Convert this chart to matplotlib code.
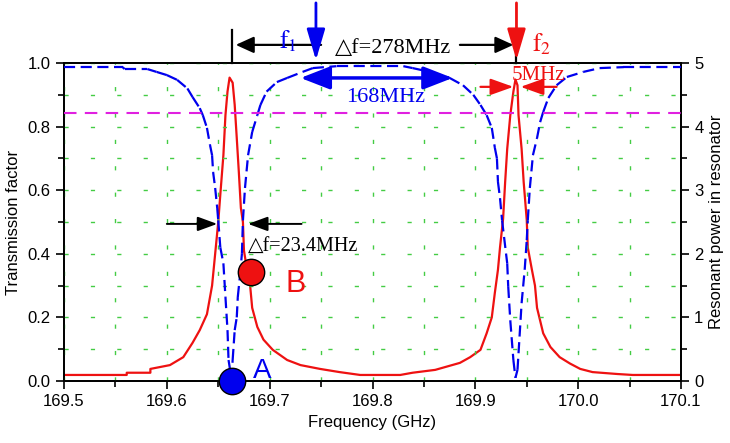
import numpy as np
import matplotlib
matplotlib.use("Agg")
import matplotlib.pyplot as plt
from matplotlib.collections import LineCollection

plt.rcParams['font.family'] = ['Liberation Sans', 'DejaVu Sans']
plt.rcParams['mathtext.fontset'] = 'stix'

# transmission factor (left axis)
blue_freq = [169.500, 169.557, 169.559, 169.581, 169.590, 169.600, 169.610, 169.620,
             169.625, 169.632, 169.635, 169.639, 169.642, 169.644, 169.645, 169.647,
             169.649, 169.650, 169.652, 169.655, 169.657, 169.659, 169.660, 169.663,
             169.664, 169.666, 169.668, 169.669, 169.671, 169.673, 169.674, 169.676,
             169.679, 169.683, 169.688, 169.691, 169.697, 169.707, 169.717, 169.732,
             169.742, 169.765, 169.830, 169.839, 169.856, 169.875, 169.888, 169.898,
             169.905, 169.911, 169.916, 169.919, 169.921, 169.922, 169.924, 169.926,
             169.931, 169.932, 169.934, 169.937, 169.939, 169.941, 169.943, 169.945,
             169.948, 169.950, 169.951, 169.953, 169.956, 169.960, 169.963, 169.966,
             169.971, 169.979, 169.989, 170.005, 170.021, 170.044, 170.100]
blue_trans = [0.987, 0.987, 0.981, 0.981, 0.972, 0.962, 0.947, 0.920,
              0.893, 0.858, 0.836, 0.796, 0.742, 0.710, 0.657, 0.607,
              0.544, 0.505, 0.420, 0.370, 0.264, 0.160, 0.066, 0.005,
              0.066, 0.160, 0.200, 0.264, 0.327, 0.400, 0.505, 0.607,
              0.710, 0.783, 0.836, 0.868, 0.910, 0.940, 0.953, 0.972,
              0.984, 0.990, 0.990, 0.984, 0.972, 0.953, 0.930, 0.900,
              0.868, 0.836, 0.796, 0.733, 0.700, 0.626, 0.575, 0.505,
              0.370, 0.296, 0.190, 0.066, 0.010, 0.035, 0.140, 0.245,
              0.350, 0.443, 0.505, 0.607, 0.710, 0.764, 0.814, 0.846,
              0.890, 0.930, 0.956, 0.972, 0.984, 0.987, 0.987]

# resonant power (right axis)
red_freq = [169.500, 169.561, 169.561, 169.584, 169.584, 169.603, 169.616, 169.625,
            169.632, 169.639, 169.644, 169.647, 169.650, 169.652, 169.655, 169.657,
            169.659, 169.661, 169.664, 169.666, 169.668, 169.670, 169.672, 169.674,
            169.675, 169.678, 169.681, 169.683, 169.688, 169.694, 169.703, 169.717,
            169.730, 169.749, 169.768, 169.788, 169.827, 169.839, 169.861, 169.885,
            169.895, 169.905, 169.911, 169.916, 169.919, 169.922, 169.924, 169.927,
            169.929, 169.931, 169.934, 169.937, 169.939, 169.941, 169.942, 169.945,
            169.947, 169.950, 169.951, 169.955, 169.958, 169.960, 169.963, 169.966,
            169.973, 169.982, 169.992, 170.002, 170.014, 170.038, 170.053, 170.100]
red_power = [0.095, 0.095, 0.13, 0.13, 0.19, 0.25, 0.375, 0.60,
             0.80, 1.05, 1.50, 2.00, 2.50, 2.93, 3.55, 4.18,
             4.55, 4.77, 4.69, 4.34, 3.82, 3.29, 2.72, 2.50,
             2.05, 1.75, 1.50, 1.15, 0.85, 0.65, 0.49, 0.33,
             0.25, 0.19, 0.14, 0.095, 0.095, 0.13, 0.175, 0.285,
             0.375, 0.49, 0.75, 1.00, 1.39, 1.75, 2.10, 2.55,
             3.13, 3.65, 4.18, 4.55, 4.74, 4.65, 4.18, 3.65,
             3.13, 2.53, 2.10, 1.75, 1.50, 1.15, 0.95, 0.75,
             0.535, 0.375, 0.275, 0.19, 0.14, 0.11, 0.095, 0.095]

threshold = 0.844
x_ticks = [169.5, 169.6, 169.7, 169.8, 169.9, 170.0, 170.1]
left_ticks = [0.0, 0.2, 0.4, 0.6, 0.8, 1.0]
right_ticks = [0, 1, 2, 3, 4, 5]

point_a = (169.663, 0.0)
point_b = (169.682, 0.343)

fig = plt.figure(figsize=(7.3, 4.43), dpi=100)
ax = fig.add_axes([64 / 730, 62 / 443, 617 / 730, 318 / 443])
ax2 = ax.twinx()
ax.set_zorder(ax2.get_zorder() + 1)
ax.patch.set_visible(False)

ax.set_xlim(169.5, 170.1)
ax.set_ylim(0, 1)
ax2.set_ylim(0, 5)

# dashed green grid
ax.set_xticks(x_ticks)
ax.set_xticks(np.arange(169.55, 170.1, 0.1), minor=True)
ax.set_yticks(left_ticks)
ax.set_yticks(np.arange(0.1, 1.0, 0.2), minor=True)
ax.set_yticklabels([f'{v:.1f}' for v in left_ticks])
ax.set_xticklabels([f'{v:.1f}' for v in x_ticks])
ax2.set_yticks(right_ticks)
ax2.set_yticks(np.arange(0.5, 5, 1.0), minor=True)
ax.grid(which='both', color='#44cc44', linestyle=(0, (3, 16)), linewidth=1.0)
ax.set_axisbelow(True)

ax2.plot(red_freq, red_power, color='#ee1111', lw=1.6, zorder=2)

pts = np.column_stack([blue_freq, blue_trans])
segs = np.stack([pts[:-1], pts[1:]], axis=1)
ax.add_collection(LineCollection(segs, colors='#0000ee', linewidths=1.6,
                                 linestyles=[(0, (5, 2.5))], zorder=3))

ax.axhline(threshold, color='#e020e0', lw=1.5, linestyle=(0, (6, 4)), zorder=3)

ax.plot(*point_a, 'o', ms=19, mfc='#0000ee', mec='black', mew=1.0, clip_on=False, zorder=6)
ax.plot(*point_b, 'o', ms=19, mfc='#ee1111', mec='black', mew=1.0, clip_on=False, zorder=6)
ax.text(169.693, 0.031, 'A', color='#0000ee', fontsize=20, ha='center', va='center')
ax.text(169.725, 0.305, 'B', color='#ee1111', fontsize=22, ha='center', va='center')

serif = ['Liberation Serif', 'DejaVu Serif']

def arrow(x0, y0, x1, y1, color, lw, hl, hw):
    ax.annotate('', xy=(x1, y1), xytext=(x0, y0), annotation_clip=False,
                arrowprops=dict(arrowstyle=f'-|>,head_length={hl},head_width={hw}',
                                color=color, lw=lw, mutation_scale=20,
                                shrinkA=0, shrinkB=0))

# top annotations
ax.plot([169.663, 169.663], [1.0, 1.104], color='black', lw=1.6, clip_on=False)
ax.plot([169.940, 169.940], [1.0, 1.104], color='black', lw=1.6, clip_on=False)
arrow(169.750, 1.057, 169.667, 1.057, 'black', 1.6, 0.55, 0.25)
arrow(169.885, 1.057, 169.937, 1.057, 'black', 1.6, 0.55, 0.25)
arrow(169.745, 1.189, 169.745, 1.009, '#0000ee', 2.0, 0.95, 0.28)
arrow(169.940, 1.189, 169.940, 1.009, '#ee1111', 2.0, 0.95, 0.28)
ax.text(169.718, 1.068, r'$\mathrm{f}_{\mathrm{1}}$', color='#0000ee', fontsize=18,
        ha='center', va='center')
ax.text(169.964, 1.060, r'$\mathrm{f}_{\mathrm{2}}$', color='#ee1111', fontsize=18,
        ha='center', va='center')
ax.text(169.820, 1.047, '△f=278MHz', family=serif, fontsize=16, ha='center', va='center')

# 168MHz plateau width
ax.annotate('', xy=(169.730, 0.953), xytext=(169.878, 0.953), annotation_clip=False,
            arrowprops=dict(arrowstyle='<|-|>,head_length=0.9,head_width=0.35',
                            color='#0000ee', lw=2.5, mutation_scale=20,
                            shrinkA=0, shrinkB=0))
ax.text(169.813, 0.89, '168MHz', color='#0000ee', family=serif, fontsize=16,
        ha='center', va='center')

# 5MHz
arrow(169.905, 0.925, 169.937, 0.925, '#ee1111', 1.6, 0.7, 0.25)
arrow(169.979, 0.925, 169.944, 0.925, '#ee1111', 1.6, 0.7, 0.25)
ax.text(169.961, 0.962, '5MHz', color='#ee1111', family=serif, fontsize=15,
        ha='center', va='center')

# 23.4MHz
arrow(169.600, 0.494, 169.649, 0.494, 'black', 1.4, 0.6, 0.22)
arrow(169.731, 0.494, 169.679, 0.494, 'black', 1.4, 0.6, 0.22)
ax.text(169.679, 0.421, '△f=23.4MHz', family=serif, fontsize=14.5, ha='left', va='center')

for a in (ax, ax2):
    for s in a.spines.values():
        s.set_linewidth(1.3)
ax.tick_params(which='major', direction='out', length=6, width=1.2, labelsize=12,
               top=False, right=False)
ax.tick_params(which='minor', direction='out', length=4, width=1.2, top=False, right=False)
ax2.tick_params(which='major', direction='out', length=6, width=1.2, labelsize=12)
ax2.tick_params(which='minor', direction='out', length=4, width=1.2)

ax.set_xlabel('Frequency (GHz)', fontsize=12, labelpad=4)
ax.set_ylabel('Transmission factor', fontsize=12, labelpad=5)
ax2.set_ylabel('Resonant power in resonator', fontsize=12, labelpad=4)

fig.savefig('out.png', dpi=100)
